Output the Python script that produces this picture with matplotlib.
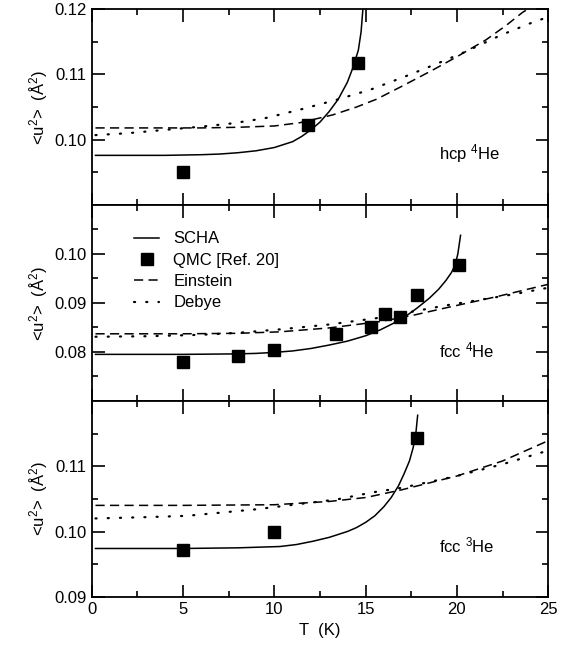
import matplotlib
matplotlib.use('Agg')
import matplotlib.pyplot as plt
from matplotlib.ticker import FixedLocator, NullFormatter

plt.rcParams['font.family'] = ['Liberation Sans', 'DejaVu Sans']
plt.rcParams['mathtext.fontset'] = 'custom'
plt.rcParams['mathtext.rm'] = 'Liberation Sans'
plt.rcParams['mathtext.it'] = 'Liberation Sans:italic'
plt.rcParams['mathtext.default'] = 'rm'

# hcp 4He (top panel)
hcp4_scha_T = [0.2, 2, 4, 6, 7, 8, 9, 10, 11, 11.5, 12, 12.5, 13, 13.5, 14, 14.3, 14.6, 14.75, 14.85]
hcp4_scha_u = [0.0976, 0.0976, 0.0976, 0.0977, 0.0978, 0.0980, 0.0983, 0.0988, 0.0997, 0.1005,
               0.1015, 0.1027, 0.1043, 0.1062, 0.1088, 0.1110, 0.1137, 0.1165, 0.1200]
hcp4_qmc_T = [5.0, 11.85, 14.6]
hcp4_qmc_u = [0.0951, 0.1022, 0.1117]
hcp4_ein_T = [0.2, 4, 6, 8, 10, 11.4, 13.2, 14.5, 15.6, 17, 18.7, 20, 21.6, 22.7, 23.6, 23.9]
hcp4_ein_u = [0.1018, 0.1018, 0.1018, 0.1019, 0.1021, 0.1026, 0.1038, 0.1050, 0.1062, 0.1082,
              0.1107, 0.1127, 0.1153, 0.1175, 0.1195, 0.1200]
hcp4_deb_T = [0.2, 2, 4, 6, 7.7, 9.5, 11.4, 13.4, 15.3, 17, 18.7, 20.5, 22.4, 24, 25]
hcp4_deb_u = [0.1007, 0.1010, 0.1015, 0.1020, 0.1025, 0.1033, 0.1046, 0.1061, 0.1077, 0.1095,
              0.1114, 0.1135, 0.1160, 0.1178, 0.1188]

# fcc 4He (middle panel)
fcc4_scha_T = [0.2, 5, 8, 9, 10, 11, 12, 13, 14, 15, 15.8, 16.5, 17.2, 17.8, 18.5, 19.0, 19.4,
               19.7, 19.9, 20.05, 20.2]
fcc4_scha_u = [0.0795, 0.0795, 0.0796, 0.0797, 0.0799, 0.0802, 0.0807, 0.0814, 0.0822, 0.0833,
               0.0845, 0.0858, 0.0873, 0.0889, 0.0910, 0.0928, 0.0946, 0.0962, 0.0977, 0.1000, 0.1038]
fcc4_qmc_T = [5.0, 8.0, 10.0, 13.4, 15.3, 16.05, 16.9, 17.8, 20.1]
fcc4_qmc_u = [0.0780, 0.0791, 0.0804, 0.0836, 0.0850, 0.0878, 0.0872, 0.0916, 0.0977]
fcc4_ein_T = [0.2, 5, 8, 10.3, 13, 15.8, 17.5, 19.4, 22.2, 25]
fcc4_ein_u = [0.0837, 0.0837, 0.0838, 0.0841, 0.0849, 0.0862, 0.0874, 0.0890, 0.0913, 0.0938]
fcc4_deb_T = [0.2, 3, 6, 8, 10.3, 13, 15.8, 19.4, 23, 25]
fcc4_deb_u = [0.0831, 0.0832, 0.0835, 0.0839, 0.0846, 0.0856, 0.0870, 0.0895, 0.0917, 0.0931]

# fcc 3He (bottom panel)
fcc3_scha_T = [0.2, 5, 8, 10.3, 11.2, 12.1, 13, 14, 14.5, 15, 15.5, 16, 16.4, 16.8, 17.1, 17.4,
               17.6, 17.75, 17.85]
fcc3_scha_u = [0.0974, 0.0974, 0.0975, 0.0977, 0.0980, 0.0985, 0.0991, 0.1000, 0.1006, 0.1014,
               0.1024, 0.1038, 0.1052, 0.1070, 0.1088, 0.1108, 0.1128, 0.1150, 0.1178]
fcc3_qmc_T = [5.0, 10.0, 17.8]
fcc3_qmc_u = [0.0971, 0.1000, 0.1143]
fcc3_ein_T = [0.2, 5, 10, 13, 15, 17, 20, 22.5, 25]
fcc3_ein_u = [0.1040, 0.1040, 0.1041, 0.1046, 0.1052, 0.1064, 0.1085, 0.1108, 0.1139]
fcc3_deb_T = [0.2, 3, 5.2, 9, 13.4, 15.4, 17, 20, 22.5, 25]
fcc3_deb_u = [0.1020, 0.1022, 0.1024, 0.1034, 0.1049, 0.1060, 0.1067, 0.1085, 0.1103, 0.1124]

panel_names = ['hcp $^{4}$He', 'fcc $^{4}$He', 'fcc $^{3}$He']
panel_ylims = [(0.09, 0.12), (0.07, 0.11), (0.09, 0.12)]
panel_major = [[0.10, 0.11, 0.12], [0.08, 0.09, 0.10], [0.09, 0.10, 0.11]]
panel_minor = [[0.095, 0.105, 0.115], [0.075, 0.085, 0.095, 0.105], [0.095, 0.105, 0.115]]
x_major = [0, 5, 10, 15, 20, 25]
x_minor = [2.5, 7.5, 12.5, 17.5, 22.5]

panels = [
    (hcp4_scha_T, hcp4_scha_u, hcp4_qmc_T, hcp4_qmc_u, hcp4_ein_T, hcp4_ein_u, hcp4_deb_T, hcp4_deb_u),
    (fcc4_scha_T, fcc4_scha_u, fcc4_qmc_T, fcc4_qmc_u, fcc4_ein_T, fcc4_ein_u, fcc4_deb_T, fcc4_deb_u),
    (fcc3_scha_T, fcc3_scha_u, fcc3_qmc_T, fcc3_qmc_u, fcc3_ein_T, fcc3_ein_u, fcc3_deb_T, fcc3_deb_u),
]

fig, axes = plt.subplots(3, 1, figsize=(5.74, 6.48), dpi=100, sharex=True)
fig.subplots_adjust(left=0.160, right=0.955, top=0.986, bottom=0.079, hspace=0)

for i, ax in enumerate(axes):
    sT, su, qT, qu, eT, eu, dT, du = panels[i]
    ax.plot(sT, su, color='black', lw=1.1, label='SCHA')
    ax.plot(qT, qu, ls='none', marker='s', ms=8.5, color='black', label='QMC [Ref. 20]')
    ax.plot(eT, eu, color='black', lw=1.1, ls=(0, (6, 3.5)), label='Einstein')
    ax.plot(dT, du, color='black', lw=1.6, ls=(0, (0.5, 5.0)), dash_capstyle='round', label='Debye')

    ax.set_xlim(0, 25)
    ax.set_ylim(*panel_ylims[i])
    ax.xaxis.set_major_locator(FixedLocator(x_major))
    ax.xaxis.set_minor_locator(FixedLocator(x_minor))
    ax.yaxis.set_major_locator(FixedLocator(panel_major[i]))
    ax.yaxis.set_minor_locator(FixedLocator(panel_minor[i]))
    ax.yaxis.set_minor_formatter(NullFormatter())
    ax.set_yticklabels(['%.2f' % v for v in panel_major[i]])
    ax.tick_params(which='both', direction='in', top=True, right=True, width=1.2, labelsize=12, pad=4)
    ax.tick_params(which='major', length=9)
    ax.tick_params(which='minor', length=4.5)
    for s in ax.spines.values():
        s.set_linewidth(1.3)

    ax.set_ylabel('<u$^{2}$>  (Å$^{2}$)', fontsize=12, labelpad=3)
    ax.text(0.76, 0.26, panel_names[i], transform=ax.transAxes, fontsize=12, ha='left', va='center')

axes[1].legend(loc='upper left', bbox_to_anchor=(0.093, 0.865), frameon=False, fontsize=12,
               handlelength=1.5, handletextpad=0.85, labelspacing=0.38, borderpad=0, borderaxespad=0)

axes[2].set_xticklabels([str(v) for v in x_major])
axes[2].set_xlabel('T  (K)', fontsize=12, labelpad=4)

plt.savefig('out.png', dpi=100)
